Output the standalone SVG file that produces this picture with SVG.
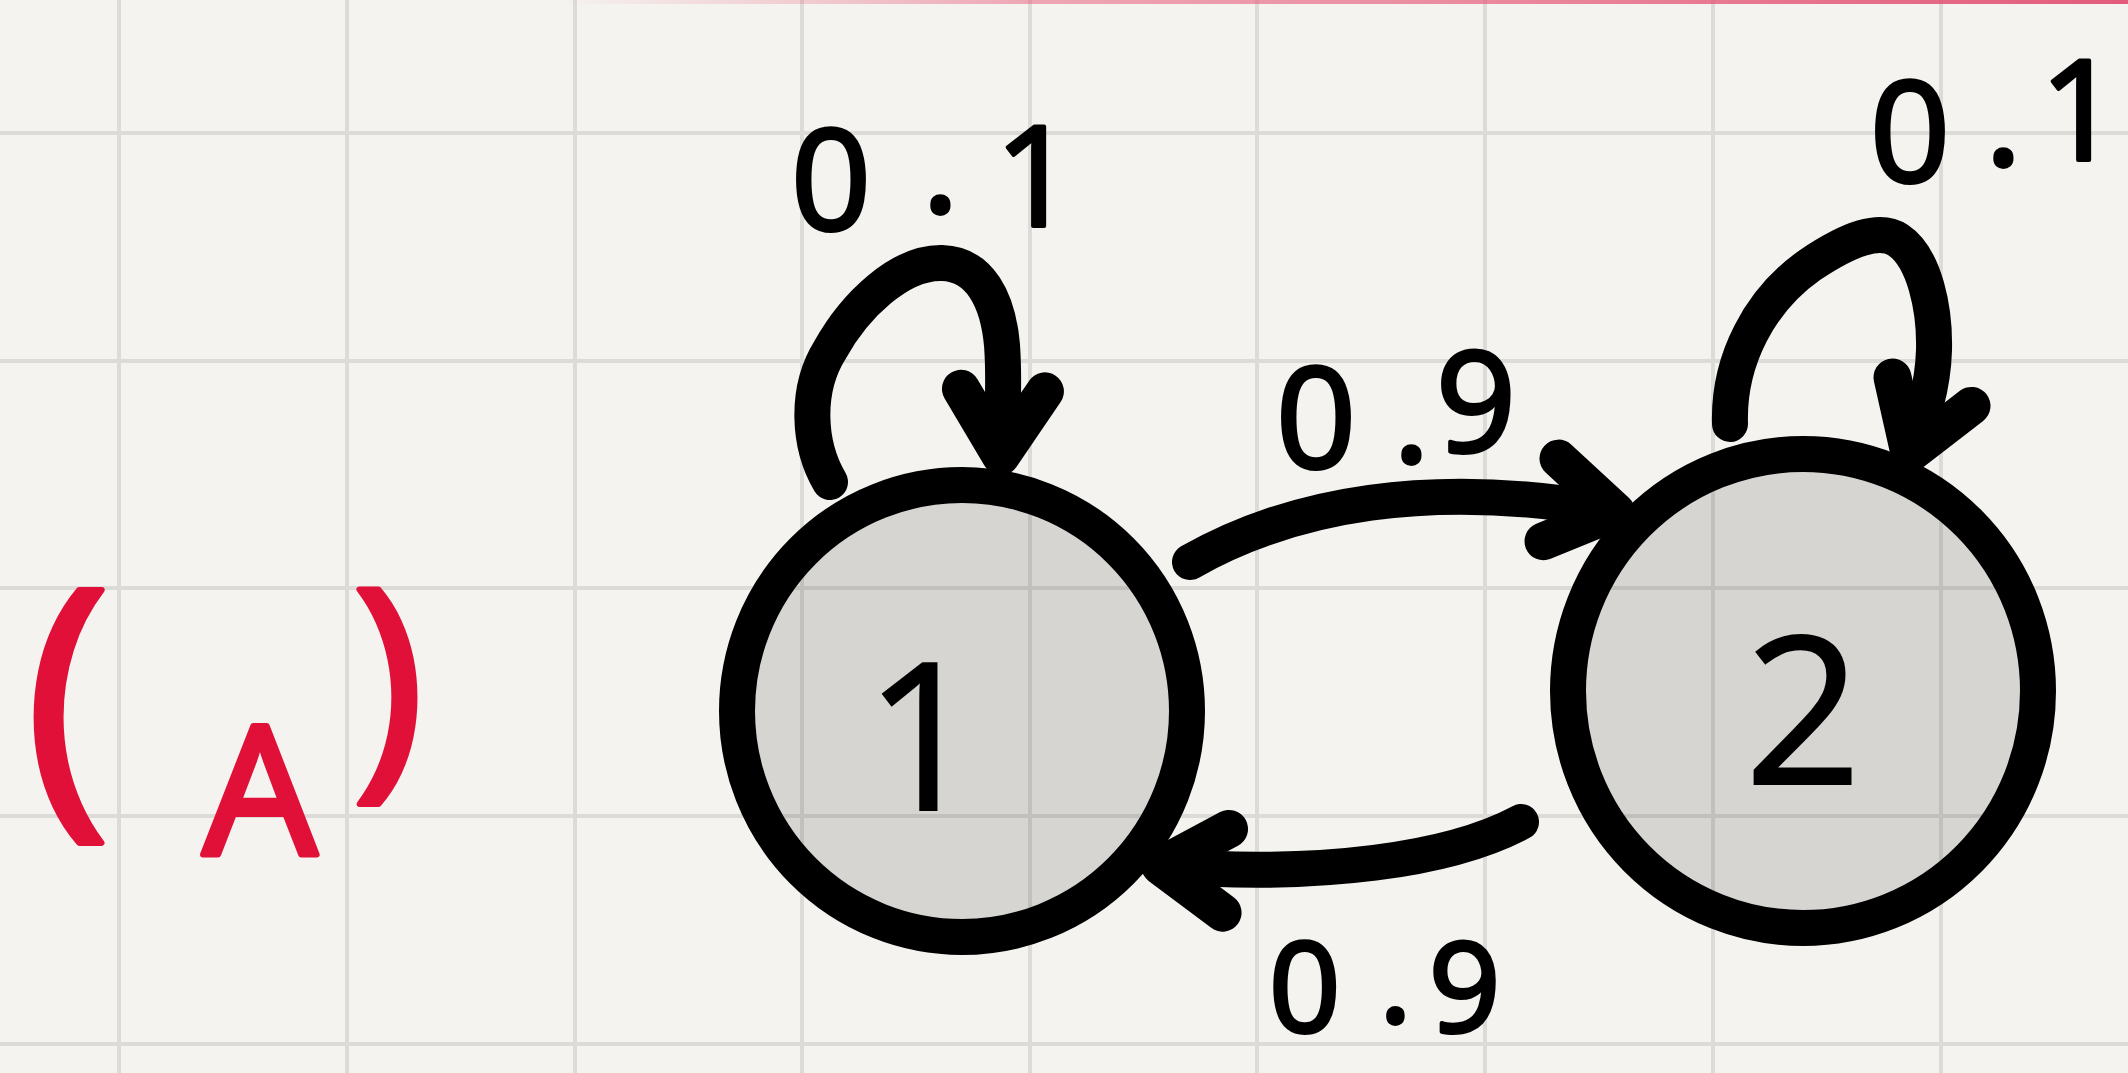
<svg xmlns="http://www.w3.org/2000/svg" width="2128" height="1073" viewBox="0 0 2128 1073">
<style>
.grid line{stroke:#dcdbd8;stroke-width:4}
.node ellipse{fill:#000;fill-opacity:0.12;stroke:#000;stroke-width:36}
.ntext{font-family:"Open Sans","Liberation Sans",sans-serif;font-size:205px;fill:#000;stroke:#000;stroke-width:2;text-anchor:middle}
.lbl{font-family:"Open Sans","Liberation Sans",sans-serif;font-size:140px;fill:#000;stroke:#000;stroke-width:4;stroke-linejoin:round}
.red{font-family:"Open Sans","Liberation Sans",sans-serif;fill:#e01038;stroke:#e01038;stroke-width:6;stroke-linejoin:round}
.conn path{fill:none;stroke:#000;stroke-width:36;stroke-linecap:round;stroke-linejoin:round}
</style>
<defs>
<linearGradient id="pink" x1="0" y1="0" x2="1" y2="0">
<stop offset="0" stop-color="#e85a7a" stop-opacity="0"/>
<stop offset="0.3" stop-color="#e85a7a" stop-opacity="0.5"/>
<stop offset="1" stop-color="#e04a70" stop-opacity="0.9"/>
</linearGradient>
<marker id="arrow" markerUnits="userSpaceOnUse" orient="auto" refX="0" refY="0" overflow="visible">
<path d="M-62,-42 L4,0 L-62,42" fill="none" stroke="#000" stroke-width="38" stroke-linecap="round" stroke-linejoin="round"/>
</marker>
</defs>
<rect x="0" y="0" width="2128" height="1073" fill="#f4f3ef"/>
<g class="grid">
<line x1="119" y1="0" x2="119" y2="1073"/>
<line x1="347" y1="0" x2="347" y2="1073"/>
<line x1="575" y1="0" x2="575" y2="1073"/>
<line x1="802" y1="0" x2="802" y2="1073"/>
<line x1="1030" y1="0" x2="1030" y2="1073"/>
<line x1="1257" y1="0" x2="1257" y2="1073"/>
<line x1="1485" y1="0" x2="1485" y2="1073"/>
<line x1="1713" y1="0" x2="1713" y2="1073"/>
<line x1="1941" y1="0" x2="1941" y2="1073"/>
<line x1="0" y1="133" x2="2128" y2="133"/>
<line x1="0" y1="361" x2="2128" y2="361"/>
<line x1="0" y1="588" x2="2128" y2="588"/>
<line x1="0" y1="816" x2="2128" y2="816"/>
<line x1="0" y1="1044" x2="2128" y2="1044"/>
</g>
<rect x="560" y="0" width="1568" height="4" fill="url(#pink)"/>
<text class="red"><tspan x="25" y="797" font-size="290">(</tspan><tspan x="203" y="855" font-size="180">A</tspan><tspan x="352" y="765" font-size="245">)</tspan></text>
<g id="node1" class="node">
<ellipse cx="962" cy="711" rx="225" ry="226"/>
<text class="ntext" x="923" y="810">1</text>
</g>
<g id="node2" class="node">
<ellipse cx="1803" cy="691" rx="235" ry="237"/>
<text class="ntext" x="1803" y="784">2</text>
</g>
<g id="connectors" class="conn">
<path id="loop1" d="M830,482 C808,445 805,390 830,350 C855,305 900,262 942,263 C980,264 998,300 1002,345 C1005,385 1002,420 1001,452" marker-end="url(#arrow)"/>
<path id="loop2" d="M1730,424 C1728,360 1760,300 1810,265 C1850,238 1880,228 1898,240 C1925,258 1935,310 1934,350 C1933,390 1920,425 1911,450" marker-end="url(#arrow)"/>
<path id="e12" d="M1190,562 C1290,505 1430,478 1612,511" marker-end="url(#arrow)"/>
<path id="e21" d="M1521,822 C1450,860 1320,878 1164,866" marker-end="url(#arrow)"/>
</g>
<g id="labels">
<text class="lbl" x="791 922 995" y="230 212 226">0.1</text>
<text class="lbl" x="1870 1985 2040" y="182 165 160">0.1</text>
<text class="lbl" x="1276 1393 1436" y="468 462 452">0.9</text>
<text class="lbl" style="font-size:125px" x="1269 1379 1429" y="1032 1022 1032">0.9</text>
</g>
</svg>
